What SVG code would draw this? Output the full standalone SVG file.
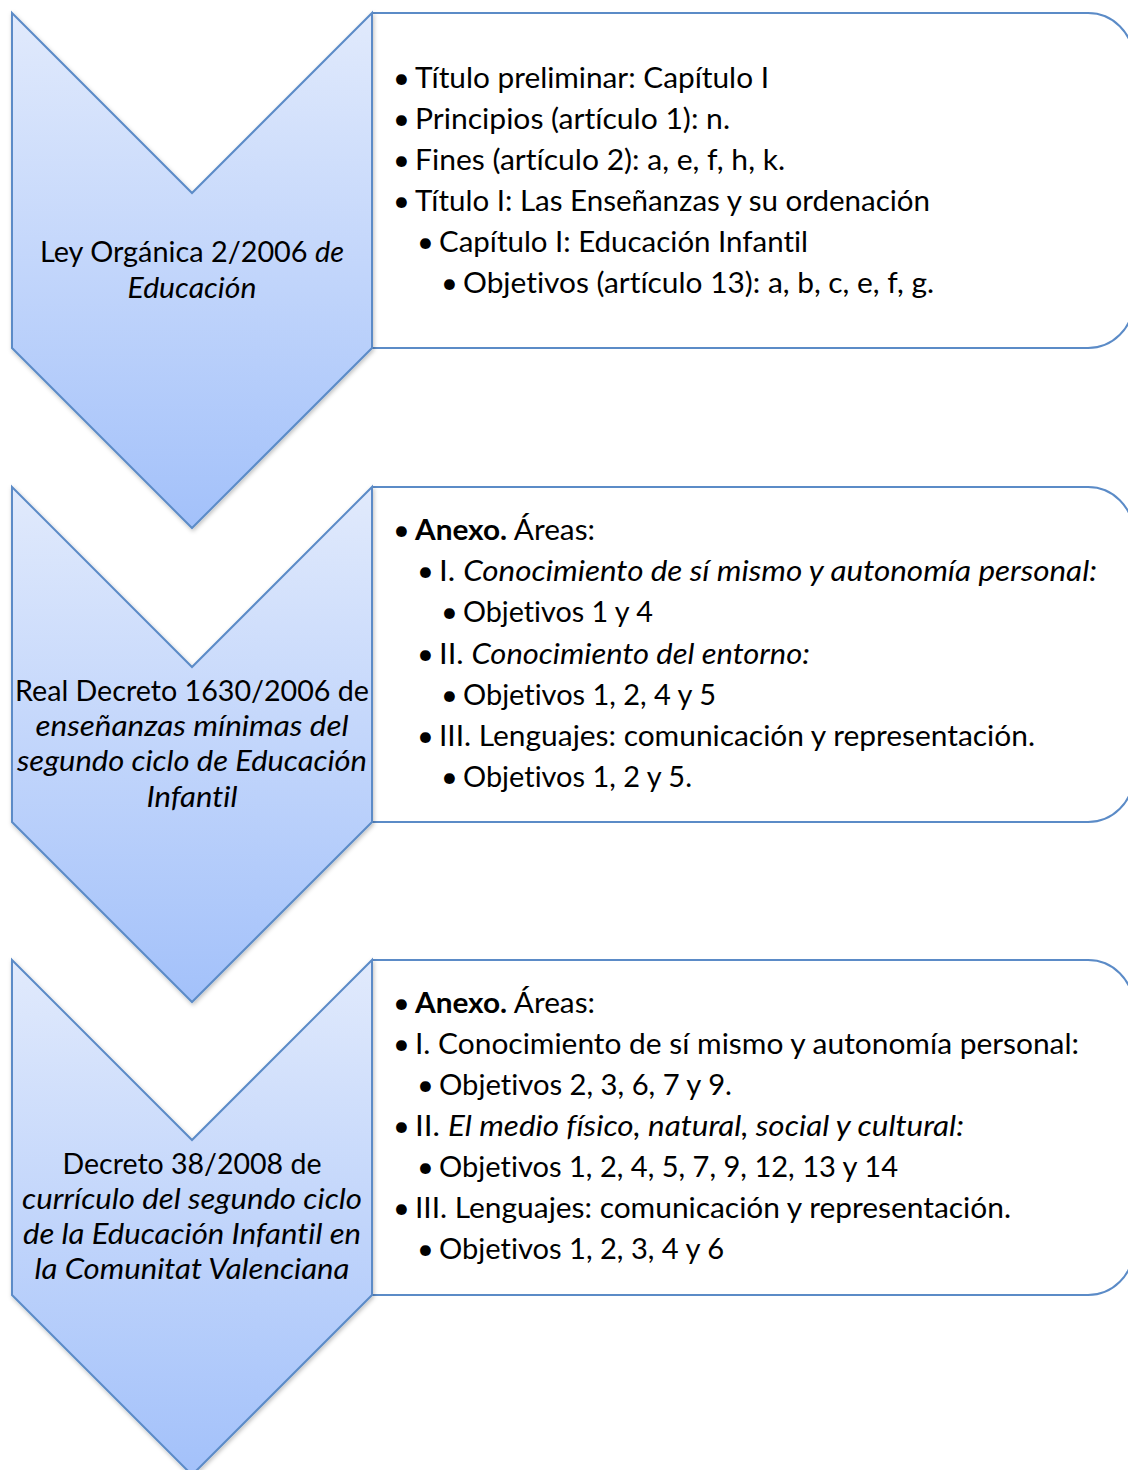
<svg xmlns="http://www.w3.org/2000/svg" width="1128" height="1470" viewBox="0 0 1128 1470">
<defs>
<linearGradient id="chevGrad" x1="0" y1="0" x2="0" y2="1">
<stop offset="0" stop-color="#e1eafc"/>
<stop offset="1" stop-color="#a3c1fa"/>
</linearGradient>
<filter id="shadow" x="-10%" y="-10%" width="120%" height="120%">
<feDropShadow dx="1" dy="2" stdDeviation="2" flood-color="#000" flood-opacity="0.25"/>
</filter>
</defs>
<style>
.chev{fill:url(#chevGrad);stroke:#5b8bc7;stroke-width:2;stroke-linejoin:miter;filter:url(#shadow)}
.box{fill:#ffffff;stroke:#5b8bc7;stroke-width:2}
text{font-family:Lato,"Open Sans","Liberation Sans",sans-serif;font-size:29px;fill:#000;font-variant-ligatures:none}
.lbl{text-anchor:middle;font-size:29px}
.it{font-style:italic}
.b{font-weight:bold}
</style>

<g id="connectors"></g>

<g id="node1">
<path class="box" d="M372,13 H1088 A45,45 0 0 1 1133,58 V303 A45,45 0 0 1 1088,348 H372"/>
<path class="chev" d="M12,13 L192,193 L372,13 V348 L192,528 L12,348 Z"/>
<text class="lbl" x="192" y="262" textLength="304" lengthAdjust="spacingAndGlyphs">Ley Orgánica 2/2006 <tspan class="it">de</tspan></text>
<text class="lbl it" x="192" y="298" textLength="129" lengthAdjust="spacingAndGlyphs">Educación</text>
</g>
<g id="node1-details">
<text x="393" y="88">•</text><text x="415" y="88" textLength="354" lengthAdjust="spacingAndGlyphs">Título preliminar: Capítulo I</text>
<text x="393" y="129">•</text><text x="415" y="129" textLength="315" lengthAdjust="spacingAndGlyphs">Principios (artículo 1): n.</text>
<text x="393" y="170">•</text><text x="415" y="170" textLength="370" lengthAdjust="spacingAndGlyphs">Fines (artículo 2): a, e, f, h, k.</text>
<text x="393" y="211">•</text><text x="415" y="211" textLength="515" lengthAdjust="spacingAndGlyphs">Título I: Las Enseñanzas y su ordenación</text>
<text x="417" y="252">•</text><text x="439" y="252" textLength="369" lengthAdjust="spacingAndGlyphs">Capítulo I: Educación Infantil</text>
<text x="441" y="293">•</text><text x="463" y="293" textLength="471" lengthAdjust="spacingAndGlyphs">Objetivos (artículo 13): a, b, c, e, f, g.</text>
</g>

<g id="node2">
<path class="box" d="M372,487 H1088 A45,45 0 0 1 1133,532 V777 A45,45 0 0 1 1088,822 H372"/>
<path class="chev" d="M12,487 L192,667 L372,487 V822 L192,1002 L12,822 Z"/>
<text class="lbl" x="192" y="701" textLength="354" lengthAdjust="spacingAndGlyphs">Real Decreto 1630/2006 de</text>
<text class="lbl it" x="192" y="736" textLength="313" lengthAdjust="spacingAndGlyphs">enseñanzas mínimas del</text>
<text class="lbl it" x="192" y="771" textLength="350" lengthAdjust="spacingAndGlyphs">segundo ciclo de Educación</text>
<text class="lbl it" x="192" y="807" textLength="91" lengthAdjust="spacingAndGlyphs">Infantil</text>
</g>
<g id="node2-details">
<text x="393" y="540">•</text><text x="415" y="540" textLength="180" lengthAdjust="spacingAndGlyphs"><tspan class="b">Anexo.</tspan> Áreas:</text>
<text x="417" y="581">•</text><text x="439" y="581" textLength="658" lengthAdjust="spacingAndGlyphs">I. <tspan class="it">Conocimiento de sí mismo y autonomía personal:</tspan></text>
<text x="441" y="622">•</text><text x="463" y="622" textLength="190" lengthAdjust="spacingAndGlyphs">Objetivos 1 y 4</text>
<text x="417" y="664">•</text><text x="439" y="664" textLength="371" lengthAdjust="spacingAndGlyphs">II. <tspan class="it">Conocimiento del entorno:</tspan></text>
<text x="441" y="705">•</text><text x="463" y="705" textLength="253" lengthAdjust="spacingAndGlyphs">Objetivos 1, 2, 4 y 5</text>
<text x="417" y="746">•</text><text x="439" y="746" textLength="596" lengthAdjust="spacingAndGlyphs">III. Lenguajes: comunicación y representación.</text>
<text x="441" y="787">•</text><text x="463" y="787" textLength="229" lengthAdjust="spacingAndGlyphs">Objetivos 1, 2 y 5.</text>
</g>

<g id="node3">
<path class="box" d="M372,960 H1088 A45,45 0 0 1 1133,1005 V1250 A45,45 0 0 1 1088,1295 H372"/>
<path class="chev" d="M12,960 L192,1140 L372,960 V1295 L192,1475 L12,1295 Z"/>
<text class="lbl" x="192" y="1174" textLength="259" lengthAdjust="spacingAndGlyphs">Decreto 38/2008 de</text>
<text class="lbl it" x="192" y="1209" textLength="340" lengthAdjust="spacingAndGlyphs">currículo del segundo ciclo</text>
<text class="lbl it" x="192" y="1244" textLength="338" lengthAdjust="spacingAndGlyphs">de la Educación Infantil en</text>
<text class="lbl it" x="192" y="1279" textLength="315" lengthAdjust="spacingAndGlyphs">la Comunitat Valenciana</text>
</g>
<g id="node3-details">
<text x="393" y="1013">•</text><text x="415" y="1013" textLength="180" lengthAdjust="spacingAndGlyphs"><tspan class="b">Anexo.</tspan> Áreas:</text>
<text x="393" y="1054">•</text><text x="415" y="1054" textLength="664" lengthAdjust="spacingAndGlyphs">I. Conocimiento de sí mismo y autonomía personal:</text>
<text x="417" y="1095">•</text><text x="439" y="1095" textLength="293" lengthAdjust="spacingAndGlyphs">Objetivos 2, 3, 6, 7 y 9.</text>
<text x="393" y="1136">•</text><text x="415" y="1136" textLength="549" lengthAdjust="spacingAndGlyphs">II. <tspan class="it">El medio físico, natural, social y cultural:</tspan></text>
<text x="417" y="1177">•</text><text x="439" y="1177" textLength="459" lengthAdjust="spacingAndGlyphs">Objetivos 1, 2, 4, 5, 7, 9, 12, 13 y 14</text>
<text x="393" y="1218">•</text><text x="415" y="1218" textLength="596" lengthAdjust="spacingAndGlyphs">III. Lenguajes: comunicación y representación.</text>
<text x="417" y="1259">•</text><text x="439" y="1259" textLength="285" lengthAdjust="spacingAndGlyphs">Objetivos 1, 2, 3, 4 y 6</text>
</g>
</svg>
